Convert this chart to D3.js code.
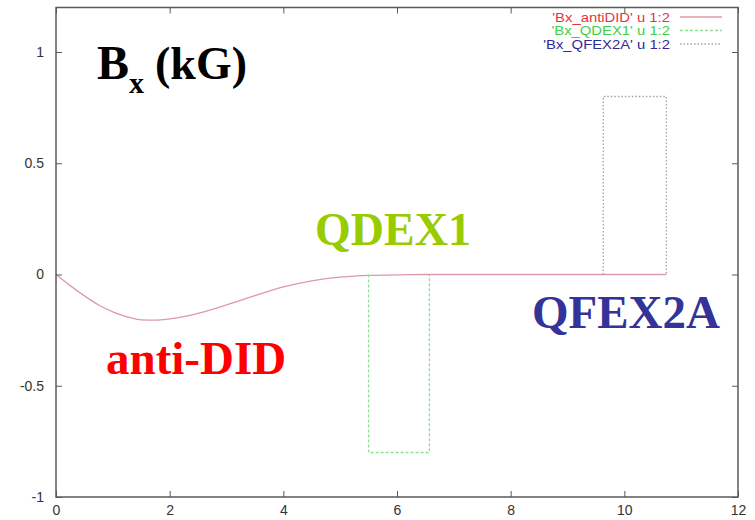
<!DOCTYPE html>
<html>

<head>
  <script src="https://cdn.jsdelivr.net/npm/d3@7"></script>
  <meta charset='utf-8'>
  <style>
    body {
      margin: 0;
      background-color: #fff;
    }

    .tick-label {
      font: 14px 'Liberation Sans', Arial, sans-serif;
      fill: #333;
    }

    .legend text {
      font: 13px 'Liberation Sans', Arial, sans-serif;
      text-anchor: end;
    }

    .note {
      font-family: 'Liberation Serif', 'Times New Roman', serif;
      font-weight: bold;
    }
  </style>
</head>

<body>
  <div id='chart'></div>
  <script>
    // anti-DID field along the beam line
    var antiX = [0, 0.25, 0.5, 0.75, 1, 1.25, 1.5, 1.75, 2, 2.25, 2.5, 2.75, 3, 3.25, 3.5, 3.75, 4, 4.25, 4.5, 4.75, 5, 5.25, 5.5, 6, 6.2, 6.5, 7, 10.74];
    var antiY = [0, -0.05, -0.096, -0.137, -0.168, -0.19, -0.204, -0.205, -0.199, -0.189, -0.175, -0.157, -0.137, -0.116, -0.095, -0.075, -0.056, -0.041, -0.029, -0.019, -0.012, -0.007, -0.004, -0.002, -0.001, 0, 0, 0];

    // quadrupole boxes
    var qdexX = [5.5, 5.5, 6.57, 6.57];
    var qdexY = [0, -0.8, -0.8, 0];
    var qfexX = [9.63, 9.63, 10.74, 10.74];
    var qfexY = [0, 0.8, 0.8, 0];

    var xTicks = [0, 2, 4, 6, 8, 10, 12];
    var yTicks = [-1, -0.5, 0, 0.5, 1];
    var legendNames = ["'Bx_antiDID' u 1:2", "'Bx_QDEX1' u 1:2", "'Bx_QFEX2A' u 1:2"];

    var width = 755,
      height = 520;
    var plotLeft = 56,
      plotRight = 738,
      plotTop = 7.5,
      plotBottom = 497;

    var svg = d3.select('#chart')
      .append('svg')
      .attr('width', width)
      .attr('height', height);

    var x = d3.scaleLinear().domain([0, 12]).range([plotLeft, plotRight]);
    var y = d3.scaleLinear().domain([-1, 1.2]).range([plotBottom, plotTop]);

    var series = [
      { xs: antiX, ys: antiY, color: '#dd9aa6', dash: null, curve: d3.curveMonotoneX, text: '#e0383e' },
      { xs: qdexX, ys: qdexY, color: '#8fdf93', dash: '3,2', curve: d3.curveLinear, text: '#3fcf46' },
      { xs: qfexX, ys: qfexY, color: '#a2a2ae', dash: '1.5,2', curve: d3.curveLinear, text: '#2b2b9c' }
    ];

    // lines
    series.forEach(function(s) {
      var pts = s.xs.map(function(v, i) { return [v, s.ys[i]]; });
      var line = d3.line()
        .x(function(d) { return x(d[0]); })
        .y(function(d) { return y(d[1]); })
        .curve(s.curve);
      svg.append('path')
        .datum(pts)
        .attr('d', line)
        .attr('fill', 'none')
        .attr('stroke', s.color)
        .attr('stroke-width', 1.3)
        .attr('stroke-dasharray', s.dash);
    });

    // frame with inward ticks on all four sides
    var axisColor = '#5a5a5a';
    var tickLen = 6;

    function styleTicks(g) {
      g.select('.domain').remove();
      g.selectAll('line').attr('stroke', axisColor);
      g.attr('font-size', null).attr('font-family', null);
      g.selectAll('text').attr('class', 'tick-label').attr('fill', null);
    }

    svg.append('g')
      .attr('transform', 'translate(0,' + plotBottom + ')')
      .call(d3.axisBottom(x).tickValues(xTicks).tickSizeInner(-tickLen).tickSizeOuter(0).tickPadding(8).tickFormat(d3.format('d')))
      .call(styleTicks);

    svg.append('g')
      .attr('transform', 'translate(0,' + plotTop + ')')
      .call(d3.axisTop(x).tickValues(xTicks).tickSizeInner(-tickLen).tickSizeOuter(0).tickFormat(''))
      .call(styleTicks);

    svg.append('g')
      .attr('transform', 'translate(' + plotLeft + ',0)')
      .call(d3.axisLeft(y).tickValues(yTicks).tickSizeInner(-tickLen).tickSizeOuter(0).tickPadding(12).tickFormat(function(d) { return String(d); }))
      .call(styleTicks);

    svg.append('g')
      .attr('transform', 'translate(' + plotRight + ',0)')
      .call(d3.axisRight(y).tickValues(yTicks).tickSizeInner(-tickLen).tickSizeOuter(0).tickFormat(''))
      .call(styleTicks);

    svg.append('rect')
      .attr('x', plotLeft)
      .attr('y', plotTop)
      .attr('width', plotRight - plotLeft)
      .attr('height', plotBottom - plotTop)
      .attr('fill', 'none')
      .attr('stroke', axisColor)
      .attr('stroke-width', 1.5);

    // legend (gnuplot text runs a little wide, so stretch it)
    var legend = svg.append('g')
      .attr('class', 'legend')
      .selectAll('g')
      .data(series)
      .enter()
      .append('g')
      .attr('transform', function(d, i) { return 'translate(0,' + (17 + i * 13.5) + ')'; });

    legend.append('text')
      .attr('x', 670)
      .attr('dy', '0.35em')
      .attr('fill', function(d) { return d.text; })
      .text(function(d, i) { return legendNames[i]; })
      .each(function() {
        var w = this.getComputedTextLength();
        d3.select(this).attr('textLength', w * 1.14).attr('lengthAdjust', 'spacingAndGlyphs');
      });

    legend.append('line')
      .attr('x1', 680)
      .attr('x2', 722)
      .attr('stroke', function(d) { return d.color; })
      .attr('stroke-width', 1.3)
      .attr('stroke-dasharray', function(d) { return d.dash; });

    // annotations
    var title = svg.append('text')
      .attr('class', 'note')
      .attr('x', 97)
      .attr('y', 79)
      .attr('fill', '#000');
    title.append('tspan').attr('font-size', 48).text('B');
    title.append('tspan').attr('font-size', 30).attr('dy', 14).text('x');
    title.append('tspan').attr('font-size', 46).attr('dy', -14).attr('x', 155).text('(kG)');

    svg.append('text')
      .attr('class', 'note')
      .attr('x', 315)
      .attr('y', 245)
      .attr('font-size', 46)
      .attr('fill', '#99cc00')
      .text('QDEX1');

    svg.append('text')
      .attr('class', 'note')
      .attr('x', 532)
      .attr('y', 328)
      .attr('font-size', 47)
      .attr('fill', '#333399')
      .text('QFEX2A');

    svg.append('text')
      .attr('class', 'note')
      .attr('x', 106)
      .attr('y', 374)
      .attr('font-size', 47)
      .attr('fill', '#ff0000')
      .text('anti-DID');
  </script>
</body>

</html>
